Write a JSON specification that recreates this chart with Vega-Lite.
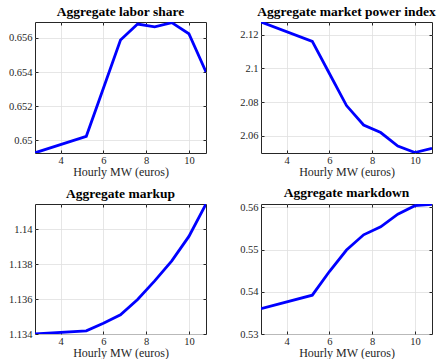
{
  "$schema": "https://vega.github.io/schema/vega-lite/v6.json",
  "padding": {"left": 7, "top": 4, "right": 0, "bottom": 0},
  "background": "white",
  "datasets": {
    "d": [
      {"panel": "labor", "x": 2.8, "y": 0.64925},
      {"panel": "labor", "x": 5.2, "y": 0.65022},
      {"panel": "labor", "x": 6.0, "y": 0.65305},
      {"panel": "labor", "x": 6.8, "y": 0.65588},
      {"panel": "labor", "x": 7.6, "y": 0.65682},
      {"panel": "labor", "x": 8.4, "y": 0.65665},
      {"panel": "labor", "x": 9.2, "y": 0.65690},
      {"panel": "labor", "x": 10.0, "y": 0.65625},
      {"panel": "labor", "x": 10.8, "y": 0.65400},
      {"panel": "power", "x": 2.8, "y": 2.1275},
      {"panel": "power", "x": 5.2, "y": 2.1160},
      {"panel": "power", "x": 6.0, "y": 2.0970},
      {"panel": "power", "x": 6.8, "y": 2.0780},
      {"panel": "power", "x": 7.6, "y": 2.0665},
      {"panel": "power", "x": 8.4, "y": 2.0620},
      {"panel": "power", "x": 9.2, "y": 2.0540},
      {"panel": "power", "x": 10.0, "y": 2.0502},
      {"panel": "power", "x": 10.8, "y": 2.0527},
      {"panel": "markup", "x": 2.8, "y": 1.13400},
      {"panel": "markup", "x": 5.2, "y": 1.13418},
      {"panel": "markup", "x": 6.0, "y": 1.13462},
      {"panel": "markup", "x": 6.8, "y": 1.13510},
      {"panel": "markup", "x": 7.6, "y": 1.13598},
      {"panel": "markup", "x": 8.4, "y": 1.13705},
      {"panel": "markup", "x": 9.2, "y": 1.13820},
      {"panel": "markup", "x": 10.0, "y": 1.13960},
      {"panel": "markup", "x": 10.8, "y": 1.14146},
      {"panel": "markdown", "x": 2.8, "y": 0.5360},
      {"panel": "markdown", "x": 5.2, "y": 0.5392},
      {"panel": "markdown", "x": 6.0, "y": 0.5448},
      {"panel": "markdown", "x": 6.8, "y": 0.5499},
      {"panel": "markdown", "x": 7.6, "y": 0.5535},
      {"panel": "markdown", "x": 8.4, "y": 0.5554},
      {"panel": "markdown", "x": 9.2, "y": 0.5584},
      {"panel": "markdown", "x": 10.0, "y": 0.5604},
      {"panel": "markdown", "x": 10.8, "y": 0.5607}
    ]
  },
  "data": {"name": "d"},
  "columns": 2,
  "spacing": {"column": 32, "row": 7},
  "resolve": {"scale": {"y": "independent"}},
  "concat": [
    {
      "width": 171, "height": 131,
      "title": "Aggregate labor share",
      "transform": [{"filter": "datum.panel === 'labor'"}],
      "resolve": {"axis": {"x": "independent", "y": "independent"}},
      "layer": [
        {
          "mark": {"type": "line", "color": "#0000ff", "strokeWidth": 2.8, "clip": true},
          "encoding": {
            "x": {"field": "x", "type": "quantitative", "scale": {"domain": [2.8, 10.8], "nice": false}, "axis": {"values": [4, 6, 8, 10], "title": "Hourly MW (euros)", "labelPadding": 5}},
            "y": {"field": "y", "type": "quantitative", "scale": {"domain": [0.64924, 0.65694], "nice": false, "zero": false}, "axis": {"values": [0.65, 0.652, 0.654, 0.656], "format": "~g", "title": null}}
          }
        },
        {
          "mark": {"type": "line", "opacity": 0},
          "encoding": {
            "x": {"field": "x", "type": "quantitative", "scale": {"domain": [2.8, 10.8], "nice": false}, "axis": {"orient": "top", "values": [4, 6, 8, 10], "labels": false, "grid": false, "title": null, "minExtent": 0, "labelPadding": 0}},
            "y": {"field": "y", "type": "quantitative", "scale": {"domain": [0.64924, 0.65694], "nice": false, "zero": false}, "axis": {"orient": "right", "values": [0.65, 0.652, 0.654, 0.656], "labels": false, "grid": false, "title": null, "minExtent": 0, "labelPadding": 0}}
          }
        }
      ]
    },
    {
      "width": 171, "height": 131,
      "title": "Aggregate market power index",
      "transform": [{"filter": "datum.panel === 'power'"}],
      "resolve": {"axis": {"x": "independent", "y": "independent"}},
      "layer": [
        {
          "mark": {"type": "line", "color": "#0000ff", "strokeWidth": 2.8, "clip": true},
          "encoding": {
            "x": {"field": "x", "type": "quantitative", "scale": {"domain": [2.8, 10.8], "nice": false}, "axis": {"values": [4, 6, 8, 10], "title": "Hourly MW (euros)", "labelPadding": 5}},
            "y": {"field": "y", "type": "quantitative", "scale": {"domain": [2.0499, 2.1275], "nice": false, "zero": false}, "axis": {"values": [2.06, 2.08, 2.1, 2.12], "format": "~g", "title": null}}
          }
        },
        {
          "mark": {"type": "line", "opacity": 0},
          "encoding": {
            "x": {"field": "x", "type": "quantitative", "scale": {"domain": [2.8, 10.8], "nice": false}, "axis": {"orient": "top", "values": [4, 6, 8, 10], "labels": false, "grid": false, "title": null, "minExtent": 0, "labelPadding": 0}},
            "y": {"field": "y", "type": "quantitative", "scale": {"domain": [2.0499, 2.1275], "nice": false, "zero": false}, "axis": {"orient": "right", "values": [2.06, 2.08, 2.1, 2.12], "labels": false, "grid": false, "title": null, "minExtent": 0, "labelPadding": 0}}
          }
        }
      ]
    },
    {
      "width": 171, "height": 130,
      "title": "Aggregate markup",
      "transform": [{"filter": "datum.panel === 'markup'"}],
      "resolve": {"axis": {"x": "independent", "y": "independent"}},
      "layer": [
        {
          "mark": {"type": "line", "color": "#0000ff", "strokeWidth": 2.8, "clip": true},
          "encoding": {
            "x": {"field": "x", "type": "quantitative", "scale": {"domain": [2.8, 10.8], "nice": false}, "axis": {"values": [4, 6, 8, 10], "title": "Hourly MW (euros)", "labelPadding": 5}},
            "y": {"field": "y", "type": "quantitative", "scale": {"domain": [1.134, 1.14146], "nice": false, "zero": false}, "axis": {"values": [1.134, 1.136, 1.138, 1.14], "format": "~g", "title": null}}
          }
        },
        {
          "mark": {"type": "line", "opacity": 0},
          "encoding": {
            "x": {"field": "x", "type": "quantitative", "scale": {"domain": [2.8, 10.8], "nice": false}, "axis": {"orient": "top", "values": [4, 6, 8, 10], "labels": false, "grid": false, "title": null, "minExtent": 0, "labelPadding": 0}},
            "y": {"field": "y", "type": "quantitative", "scale": {"domain": [1.134, 1.14146], "nice": false, "zero": false}, "axis": {"orient": "right", "values": [1.134, 1.136, 1.138, 1.14], "labels": false, "grid": false, "title": null, "minExtent": 0, "labelPadding": 0}}
          }
        }
      ]
    },
    {
      "width": 171, "height": 130,
      "title": "Aggregate markdown",
      "transform": [{"filter": "datum.panel === 'markdown'"}],
      "resolve": {"axis": {"x": "independent", "y": "independent"}},
      "layer": [
        {
          "mark": {"type": "line", "color": "#0000ff", "strokeWidth": 2.8, "clip": true},
          "encoding": {
            "x": {"field": "x", "type": "quantitative", "scale": {"domain": [2.8, 10.8], "nice": false}, "axis": {"values": [4, 6, 8, 10], "title": "Hourly MW (euros)", "labelPadding": 5}},
            "y": {"field": "y", "type": "quantitative", "scale": {"domain": [0.53, 0.5608], "nice": false, "zero": false}, "axis": {"values": [0.53, 0.54, 0.55, 0.56], "format": "~g", "title": null}}
          }
        },
        {
          "mark": {"type": "line", "opacity": 0},
          "encoding": {
            "x": {"field": "x", "type": "quantitative", "scale": {"domain": [2.8, 10.8], "nice": false}, "axis": {"orient": "top", "values": [4, 6, 8, 10], "labels": false, "grid": false, "title": null, "minExtent": 0, "labelPadding": 0}},
            "y": {"field": "y", "type": "quantitative", "scale": {"domain": [0.53, 0.5608], "nice": false, "zero": false}, "axis": {"orient": "right", "values": [0.53, 0.54, 0.55, 0.56], "labels": false, "grid": false, "title": null, "minExtent": 0, "labelPadding": 0}}
          }
        }
      ]
    }
  ],
  "config": {
    "font": "Liberation Serif",
    "view": {"stroke": "#262626", "strokeWidth": 1},
    "title": {"font": "Liberation Serif", "fontSize": 13.5, "fontWeight": "bold", "color": "#000", "offset": 3},
    "axis": {
      "labelFont": "Liberation Serif", "labelFontSize": 10.5, "labelColor": "#262626",
      "titleFont": "Liberation Serif", "titleFontSize": 12, "titleFontWeight": "normal", "titleColor": "#262626",
      "gridColor": "#e0e0e0", "gridWidth": 0.8,
      "domain": false, "ticks": true, "tickColor": "#262626", "tickSize": -3,
      "labelPadding": 6, "titlePadding": 1
    }
  }
}
